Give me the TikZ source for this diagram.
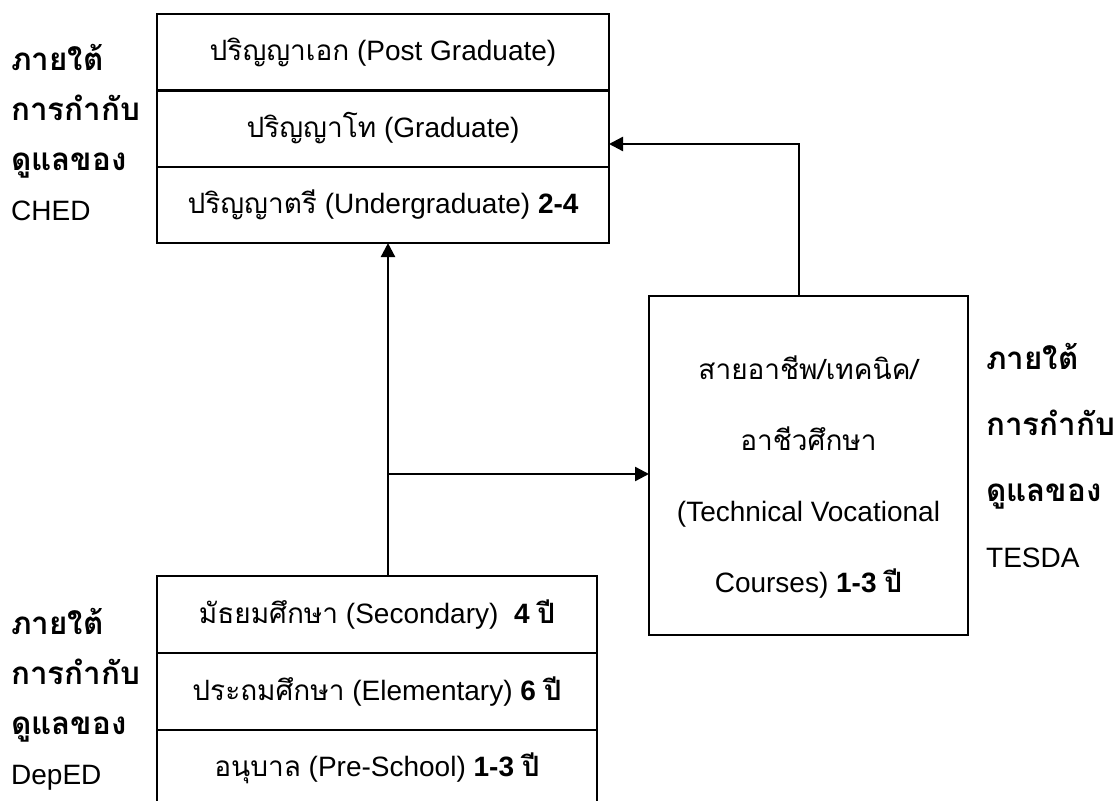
\documentclass[tikz,border=0pt]{standalone}
\usepackage{fontspec}
\setmainfont{Liberation Sans}
\newfontfamily\thaifont[Script=Thai]{Loma}
\newfontfamily\labfont[Script=Thai,Scale=1.12]{Loma}
\newcommand\thai[1]{{\thaifont #1}}
\newcommand\bthai[1]{{\thaifont\bfseries #1}}
\newcommand\lab[1]{{\labfont\bfseries #1}}
\usetikzlibrary{positioning,arrows.meta}
\tikzset{degree/.style={draw,line width=1.2pt,outer sep=0pt,inner sep=0pt,
    minimum width=226pt,minimum height=38.17pt,font=\fontsize{14}{17}\selectfont},
  school/.style={degree,minimum width=220pt,minimum height=38.5pt},
  tvetbox/.style={draw,line width=1.2pt,outer sep=0pt,inner sep=0pt,align=center,
    minimum width=159.5pt,minimum height=169.5pt,font=\fontsize{14}{35.5}\selectfont},
  agency/.style={anchor=west,align=left,inner sep=0pt,font=\fontsize{14}{25}\selectfont}}

\begin{document}
\begin{tikzpicture}[x=0.5pt,y=-0.5pt,line width=1.2pt,
    >={Triangle[length=7pt,width=7pt]}]
\path[use as bounding box,clip] (0,0) rectangle (1120,801);
% CHED
\node[degree] (phd) at (383,52.2) {\thai{ปริญญาเอก} (Post Graduate)};
\node[degree] (master) [below=0pt of phd] {\thai{ปริญญาโท} (Graduate)};
\node[degree] (bachelor) [below=0pt of master] {\thai{ปริญญาตรี} (Undergraduate) \textbf{2-4}};
\node[agency] (ched) at (10,133) {\lab{ภายใต้}\\ \lab{การกำกับ}\\ \lab{ดูแลของ}\\ CHED};
% DepED
\node[school] (secondary) at (377,614.5) {\thai{มัธยมศึกษา} (Secondary)\ \ \textbf{4 \bthai{ปี}}};
\node[school] (primary) [below=0pt of secondary] {\thai{ประถมศึกษา} (Elementary) \textbf{6 \bthai{ปี}}};
\node[school] (preschool) [below=0pt of primary] {\thai{อนุบาล} (Pre-School) \textbf{1-3 \bthai{ปี}}};
\node[agency] (deped) at (10,699) {\lab{ภายใต้}\\ \lab{การกำกับ}\\ \lab{ดูแลของ}\\ DepED};
% TESDA
\node[tvetbox] (tvet) at (808.5,465.5) {\rule{0pt}{23pt}\thai{สายอาชีพ/เทคนิค/}\\ \thai{อาชีวศึกษา}\\
  (Technical Vocational\\ Courses) \textbf{1-3 \bthai{ปี}}};
\node[agency,font=\fontsize{14}{33}\selectfont] (tesda) at (985,456) {\lab{ภายใต้}\\ \lab{การกำกับ}\\ \lab{ดูแลของ}\\ TESDA};

\coordinate (stem) at ([xshift=5.5pt]secondary.north);
\coordinate (turn) at ([xshift=-4.75pt]tvet.north |- 0,144);
\draw[->] (stem) -- (stem |- bachelor.south);
\draw[->] (stem |- 0,474) -- (tvet.west |- 0,474);
\draw[->] (turn |- tvet.north) -- (turn) -- (master.east |- turn);
\end{tikzpicture}
\end{document}
